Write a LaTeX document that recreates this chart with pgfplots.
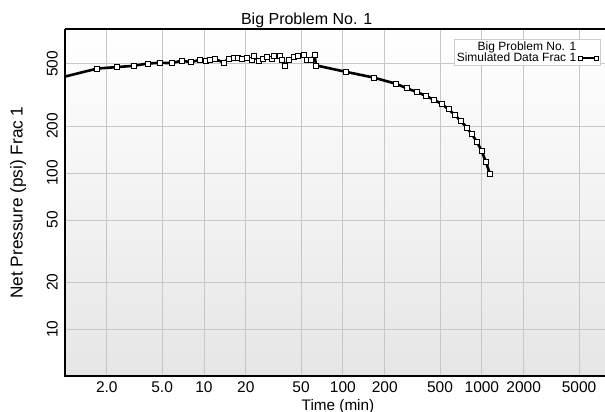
\documentclass[border=0pt]{standalone}
\usepackage{fontspec}
\setmainfont{Liberation Sans}
\usepackage{pgfplots}
\pgfplotsset{compat=1.18}
\begin{document}
\begin{tikzpicture}
\begin{axis}[
  at={(65pt,36pt)}, anchor=south west,
  scale only axis, width=540pt, height=347pt,
  xmode=log, ymode=log,
  xmin=1, xmax=7694, ymin=5, ymax=837,
  xtick={2,5,10,20,50,100,200,500,1000,2000,5000},
  xticklabels={2.0,5.0,10,20,50,100,200,500,1000,2000,5000},
  ytick={10,20,50,100,200,500},
  yticklabels={10,20,50,100,200,500},
  minor xtick={}, minor ytick={},
  grid=major, major grid style={draw=black!22, line width=0.9pt},
  major tick length=0pt, tick style={draw=none},
  axis line style={draw=none},
  axis background/.style={shade, top color=white, bottom color=black!10},
  xticklabel style={font=\fontsize{15.5}{16}\selectfont, anchor=north, inner sep=0pt},
  xticklabel shift=5.5pt,
  yticklabel style={font=\fontsize{15.5}{16}\selectfont, rotate=90, anchor=south, inner sep=0pt},
  yticklabel shift=7pt,
  legend style={at={(1,1)}, anchor=north east, xshift=-5pt, yshift=-10pt,
    draw=black!20, fill=white, font=\fontsize{12}{13}\selectfont,
    inner sep=1.5pt, row sep=0pt, column sep=1pt, nodes={inner sep=0.7pt}},
  legend cell align=right,
  legend plot pos=right,
  after end axis/.code={
    \draw[black, line width=2.7pt] (rel axis cs:0,1) -- (rel axis cs:0,0) -- (rel axis cs:1,0);
    \draw[black, line width=2.7pt] (rel axis cs:0,1) -- (rel axis cs:1,1);
  },
]
\addlegendimage{empty legend}
\addlegendentry{Big Problem No. 1}
\addplot[black, line width=2.6pt, mark=square*, mark phase=2, mark repeat=1,
  mark size=2.5pt, mark options={fill=white, draw=black, line width=0.75pt, solid},
  legend image code/.code={
    \draw[black, line width=2.2pt] (0pt,0pt) -- (16pt,0pt);
    \draw[black, fill=white, line width=0.6pt] (-1.9pt,-1.9pt) rectangle (1.9pt,1.9pt);
    \draw[black, fill=white, line width=0.6pt] (14.1pt,-1.9pt) rectangle (17.9pt,1.9pt);
  }] coordinates {
(1.0,415) (1.71,467) (2.36,477) (3.11,486) (3.95,503) (4.79,508) (5.84,506)
(6.93,524) (8.05,513) (9.4,531) (10.37,524) (11.08,531) (12.04,537) (13.81,511)
(15.01,537) (16.31,545) (17.42,545) (18.74,539) (20.35,545) (22.11,531) (22.71,564)
(24.67,524) (26.53,539) (28.35,558) (30.80,537) (31.99,564) (34.93,566) (36.35,531)
(38.39,489) (40.55,531) (44.05,553) (47.37,564) (51.98,569) (55.0,531) (59.05,531)
(62.37,572) (64.16,489) (104.9,445) (165.8,409) (241.3,373) (288.2,349) (340.1,330)
(396.8,312) (452.9,294) (514.6,277) (574.1,256) (641.7,235) (705.2,215) (778.9,196)
(846.1,177) (919.1,159) (998.4,138) (1067,118) (1146,98)
};
\addlegendentry{Simulated Data Frac 1}
\end{axis}
\node[anchor=base, font=\fontsize{16}{19}\selectfont] at (306.7pt,387pt) {Big Problem No. 1};
\node[anchor=base, font=\fontsize{15.3}{18}\selectfont] at (338pt,1.8pt) {Time (min)};
\node[anchor=base, rotate=90, font=\fontsize{17.2}{20}\selectfont] at (22.7pt,209.5pt) {Net Pressure (psi) Frac 1};
\pgfresetboundingbox
\useasboundingbox (0pt,0pt) rectangle (605pt,412pt);
\end{tikzpicture}
\end{document}
